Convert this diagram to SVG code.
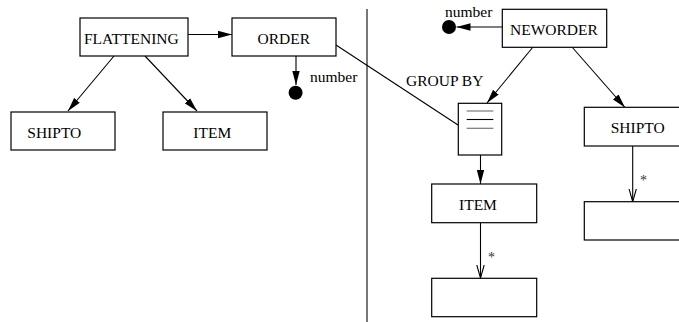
<svg xmlns="http://www.w3.org/2000/svg" width="679" height="322" viewBox="0 0 679 322">
<style>
.box{fill:#fff;stroke:#000;stroke-width:1.2}
.ln{stroke:#000;stroke-width:1.1;fill:none}
.t{font-family:"Liberation Serif","Times New Roman",serif;font-size:15.5px;fill:#000}
.s{font-family:"Liberation Serif","Times New Roman",serif;font-size:14px;fill:#333}
</style>
<defs>
<marker id="fa" markerWidth="15" markerHeight="8" refX="14" refY="4" orient="auto" markerUnits="userSpaceOnUse">
<path d="M0,0.3 L14,4 L0,7.7 Z" fill="#000"/>
</marker>
<marker id="oa" markerWidth="14" markerHeight="10" refX="13" refY="5" orient="auto" markerUnits="userSpaceOnUse">
<path d="M0,1.3 L13,5 L0,8.7" fill="none" stroke="#000" stroke-width="1.1"/>
</marker>
</defs>
<g id="divider"><line x1="367" y1="9" x2="367" y2="322" stroke="#555" stroke-width="1.6"/></g>
<g id="connectors">
<line class="ln" x1="184" y1="34.5" x2="232" y2="34.5" marker-end="url(#fa)"/>
<line class="ln" x1="296" y1="56" x2="296" y2="85" marker-end="url(#fa)"/>
<circle cx="295.6" cy="92.7" r="7" fill="#000"/>
<line class="ln" x1="114" y1="56" x2="68" y2="111" marker-end="url(#fa)"/>
<line class="ln" x1="145" y1="56" x2="197" y2="111" marker-end="url(#fa)"/>
<line class="ln" x1="336" y1="45" x2="458" y2="125"/>
<line class="ln" x1="502" y1="27" x2="456.5" y2="27" marker-end="url(#fa)"/>
<circle cx="449" cy="27" r="7" fill="#000"/>
<line class="ln" x1="533" y1="47" x2="487" y2="103" marker-end="url(#fa)"/>
<line class="ln" x1="572" y1="47" x2="625" y2="107.5" marker-end="url(#fa)"/>
<line class="ln" x1="480.5" y1="155" x2="480.5" y2="184" marker-end="url(#fa)"/>
<line class="ln" x1="480.5" y1="222.7" x2="480.5" y2="278" marker-end="url(#oa)"/>
<line class="ln" x1="632.7" y1="146" x2="632.7" y2="201.7" marker-end="url(#oa)"/>
<text class="s" x="488" y="262">*</text>
<text class="s" x="640" y="185">*</text>
</g>
<g id="flattening"><rect class="box" x="80" y="18" width="108" height="38"/><text class="t" x="84" y="44">FLATTENING</text></g>
<g id="order"><rect class="box" x="232" y="18" width="104" height="38"/><text class="t" x="257.5" y="44">ORDER</text></g>
<g id="order-number"><text class="t" x="310" y="81.5">number</text></g>
<g id="shipto-left"><rect class="box" x="11" y="112" width="104" height="38"/><text class="t" x="27.3" y="138">SHIPTO</text></g>
<g id="item-left"><rect class="box" x="163" y="112" width="104" height="38"/><text class="t" x="193.3" y="138">ITEM</text></g>
<g id="neworder"><rect class="box" x="502.3" y="9.3" width="104.4" height="38"/><text class="t" x="510" y="35">NEWORDER</text></g>
<g id="neworder-number"><text class="t" x="445" y="17.3">number</text></g>
<g id="groupby-label"><text class="t" x="406" y="86">GROUP BY</text></g>
<g id="groupby">
<rect class="box" x="458.3" y="103.3" width="43.4" height="51.7"/>
<line x1="466.7" y1="111" x2="493.3" y2="111" stroke="#777" stroke-width="1.2"/>
<line x1="466.7" y1="119.5" x2="493.3" y2="119.5" stroke="#000" stroke-width="1.1"/>
<line x1="466.7" y1="128.3" x2="493.3" y2="128.3" stroke="#777" stroke-width="1.2"/>
</g>
<g id="shipto-right"><rect class="box" x="584.3" y="107.3" width="100" height="38.7"/><text class="t" x="610.7" y="132.7">SHIPTO</text></g>
<g id="item-right"><rect class="box" x="431.7" y="184" width="105" height="38.7"/><text class="t" x="459" y="210">ITEM</text></g>
<g id="empty-item"><rect class="box" x="431.7" y="278.3" width="105" height="38.4"/></g>
<g id="empty-shipto"><rect class="box" x="584.3" y="201.7" width="100" height="38.3"/></g>
</svg>
